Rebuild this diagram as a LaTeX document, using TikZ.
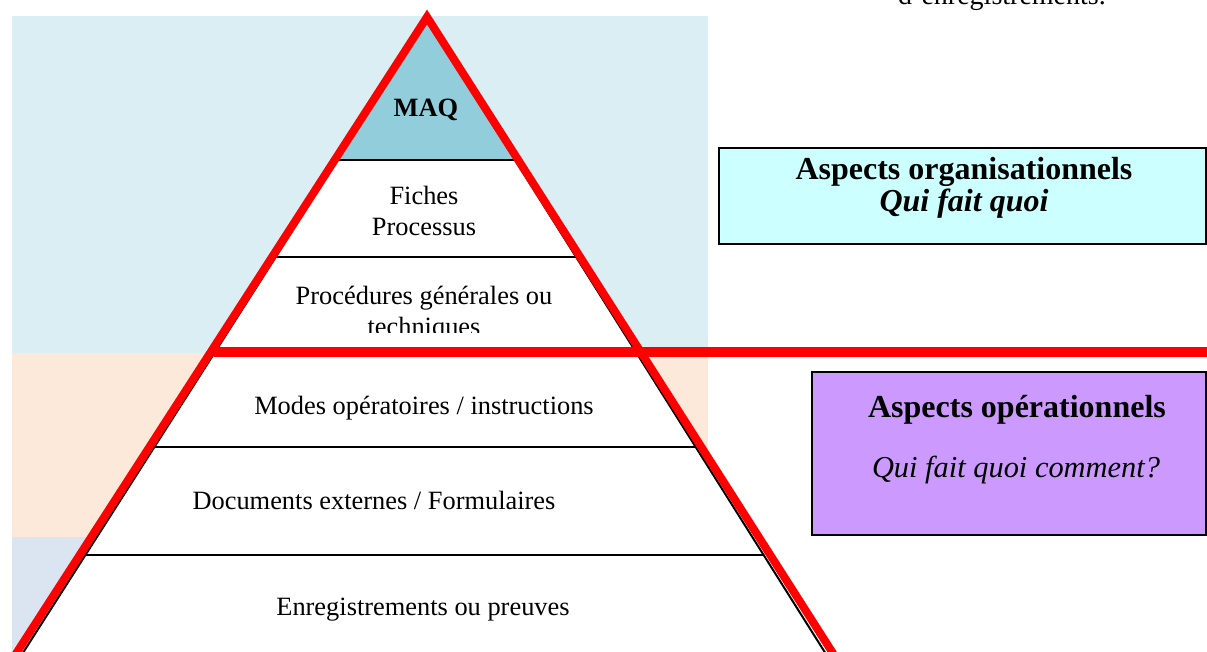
\documentclass[tikz,border=0pt]{standalone}
\usepackage{fontspec}
\setmainfont{Liberation Serif}
\usetikzlibrary{calc}
\definecolor{orgband}{HTML}{DAEEF3}
\definecolor{opband}{HTML}{FDE9D9}
\definecolor{recband}{HTML}{DBE5F1}
\definecolor{maqfill}{HTML}{92CDDC}
\definecolor{orgbox}{HTML}{CCFFFF}
\definecolor{opbox}{HTML}{CC99FF}
\definecolor{redline}{HTML}{FF0000}
\begin{document}
\begin{tikzpicture}[x=0.5pt,y=-0.5pt,
  layertext/.style={font=\fontsize{13.2}{15}\selectfont, align=center, inner sep=0pt, anchor=base},
  headtext/.style={font=\fontsize{16}{18}\selectfont\bfseries, inner sep=0pt, anchor=base},
  subtext/.style={font=\fontsize{16}{18}\selectfont\bfseries\itshape, inner sep=0pt, anchor=base},
  infobox/.style={draw=black, line width=0.8pt, inner sep=0pt},
  separator/.style={draw=black, line width=0.8pt},
  redstroke/.style={draw=redline, line join=miter},
]
\useasboundingbox (0,0) rectangle (1207,652);
\clip (0,0) rectangle (1207,652);

% coloured bands behind the pyramid
\fill[orgband] (12,16) rectangle (708,353);
\fill[opband] (12,353) rectangle (708,537);
\fill[recband] (12,537) rectangle (708,670);

% pyramid corners
\coordinate (A) at (427,20);
\coordinate (BL) at (12,670);
\coordinate (BR) at (836,670);

% layer boundaries on both sides
\foreach \name/\yy in {s1/160, s2/257, s3/352, s4/447, s5/555} {
  \coordinate (\name L) at ($(A)!{(\yy-20)/650}!(BL)$);
  \coordinate (\name R) at ($(A)!{(\yy-20)/650}!(BR)$);
}

\fill[white] (A) -- (BL) -- (BR) -- cycle;
\fill[maqfill] (A) -- (s1L) -- (s1R) -- cycle;
\foreach \name in {s1, s2, s3, s4, s5}
  \draw[separator] (\name L) -- (\name R);
\draw[black, line width=1pt] (BL) -- (A) -- (BR);

% layer labels
\node[layertext, font=\fontsize{13.2}{15}\selectfont\bfseries] (maq) at (426,117) {MAQ};
\node[layertext] (fiches) at (424,205) {Fiches};
\node[layertext] (processus) at (424,236) {Processus};
\begin{scope}
  \clip (200,262) rectangle (700,333);
  \node[layertext] (procedures) at (424,305) {Procédures générales ou};
  \node[layertext] (techniques) at (424,336) {techniques};
\end{scope}
\node[layertext] (modes) at (424,415) {Modes opératoires / instructions};
\node[layertext] (documents) at (374,510) {Documents externes / Formulaires};
\node[layertext] (enregistrements) at (423,616) {Enregistrements ou preuves};

% red outline and the split between the two aspects
\draw[redstroke, line width=4pt] (-1,680) -- (427,17) -- (850,680);
\draw[redstroke, line width=5pt] (214,352) -- (1215,352);

% aspect boxes
\node[infobox, fill=orgbox, minimum width=243.5pt, minimum height=48pt] (orgbox) at (962.5,196) {};
\node[headtext] (orgtitle) at (964,180) {Aspects organisationnels};
\node[subtext] (orgsub) at (964,212) {Qui fait quoi};

\node[infobox, fill=opbox, minimum width=197pt, minimum height=81.5pt] (opbox) at (1009,453.5) {};
\node[headtext] (optitle) at (1017,418) {Aspects opérationnels};
\node[subtext, font=\fontsize{15.2}{18}\selectfont\itshape] (opsub) at (1016,478) {Qui fait quoi comment?};

% line of running text cut by the top edge
\node[layertext, font=\fontsize{14}{16}\selectfont] (runon) at (1002,5) {d’enregistrements.};
\end{tikzpicture}
\end{document}
